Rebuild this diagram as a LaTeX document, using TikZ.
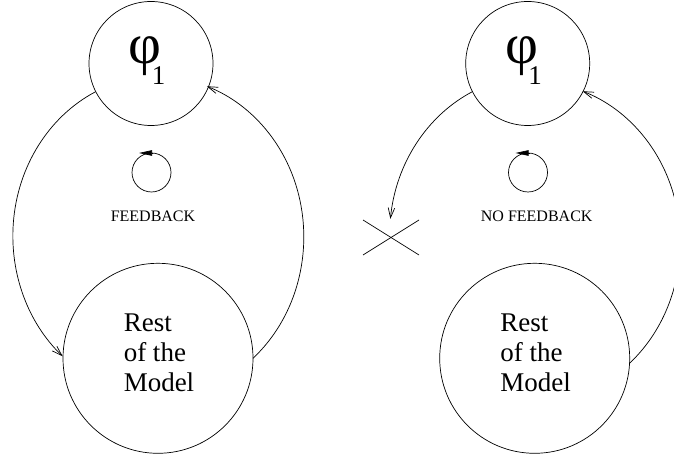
\documentclass[tikz,border=0pt]{standalone}
\usepackage{fontspec}
\setmainfont{Liberation Serif}
\usetikzlibrary{arrows.meta,calc}
\begin{document}
\begin{tikzpicture}[x=1pt,y=1pt,
  every node/.style={inner sep=0pt,outer sep=0pt},
  ring/.style={draw,circle,line width=0.7pt},
  conn/.style={line width=0.7pt,-{Straight Barb[length=10pt,width=6.5pt]}},
  loopmark/.style={line width=0.7pt,-{Triangle[length=13pt,width=5.5pt]}},
  small/.style={font=\fontsize{16pt}{19pt}\selectfont},
  big/.style={font=\fontsize{27pt}{30pt}\selectfont,align=left},
  phitext/.style={font=\fontsize{57pt}{57pt}\selectfont},
  subtext/.style={font=\fontsize{27pt}{27pt}\selectfont}]
\useasboundingbox (0,0) rectangle (674,457);
% left panel
\node[ring,minimum size=124pt] (T1) at (151,393.5) {};
\node[phitext] (P1) at ($(T1)+(-6,7.5)$) {φ};
\node[subtext] (P1s) at ($(T1)+(7.5,-12.5)$) {1};
\node[ring,minimum size=39pt] (S1) at (151.5,284.5) {};
\draw[loopmark] ([xshift=1.5pt]S1.north) -- ([xshift=-12.5pt]S1.north);
\node[small] (FB) at (153,241) {FEEDBACK};
\node[ring,minimum size=190pt] (B1) at (158,98.7) {};
\node[big] (R1) at ($(B1)+(1,5.5)$) {Rest\\of the\\Model};
\draw[conn] (T1.207.5) arc[start angle=115.6,end angle=228.8,x radius=146,y radius=160];
\draw[conn] (B1.east) arc[start angle=-49.3,end angle=70.4,x radius=146,y radius=160];
% right panel
\node[ring,minimum size=124pt] (T2) at (527.7,393.5) {};
\node[phitext] (P2) at ($(T2)+(-6,7.5)$) {φ};
\node[subtext] (P2s) at ($(T2)+(7.5,-12.5)$) {1};
\node[ring,minimum size=39pt] (S2) at (528,284.5) {};
\draw[loopmark] ([xshift=1.5pt]S2.north) -- ([xshift=-12.5pt]S2.north);
\node[small] (NFB) at (536.7,241) {NO FEEDBACK};
\node[ring,minimum size=190pt] (B2) at (534.7,98.7) {};
\node[big] (R2) at ($(B2)+(1,5.5)$) {Rest\\of the\\Model};
\draw[conn] (T2.207.5) arc[start angle=115.6,end angle=173.9,x radius=146,y radius=160];
\draw[conn] (B2.-3) arc[start angle=-49.2,end angle=70.6,x radius=146,y radius=160];
\coordinate (X) at (391,219.5);
\draw[line width=0.7pt] ($(X)+(-28,17.5)$) -- ($(X)+(28,-17.5)$);
\draw[line width=0.7pt] ($(X)+(28,17.5)$) -- ($(X)+(-28,-17.5)$);
\end{tikzpicture}
\end{document}
